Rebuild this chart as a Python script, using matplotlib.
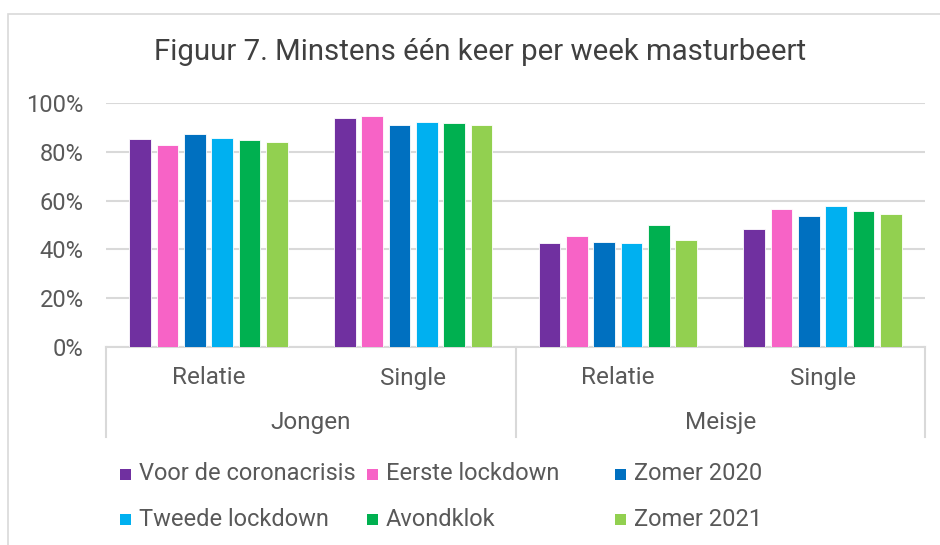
import matplotlib
matplotlib.use("Agg")
import matplotlib.pyplot as plt
from matplotlib.patches import Rectangle
import numpy as np

plt.rcParams['font.family'] = ['Roboto', 'DejaVu Sans']

title = "Figuur 7. Minstens één keer per week masturbeert"
subcats = ["Relatie", "Single", "Relatie", "Single"]
groups = ["Jongen", "Meisje"]
series = ["Voor de coronacrisis", "Eerste lockdown", "Zomer 2020",
          "Tweede lockdown", "Avondklok", "Zomer 2021"]
colors = ["#7030A0", "#F763C6", "#0070C0", "#00B0F0", "#00B050", "#92D050"]

voor = [0.851, 0.937, 0.428, 0.484]
eerste = [0.828, 0.948, 0.455, 0.565]
zomer20 = [0.871, 0.911, 0.431, 0.538]
tweede = [0.858, 0.922, 0.426, 0.578]
avondklok = [0.850, 0.919, 0.498, 0.558]
zomer21 = [0.839, 0.911, 0.437, 0.547]
values = [voor, eerste, zomer20, tweede, avondklok, zomer21]
yticks = [0, 0.2, 0.4, 0.6, 0.8, 1.0]
ytick_labels = ["0%", "20%", "40%", "60%", "80%", "100%"]

W, H = 940, 545
fig = plt.figure(figsize=(W / 100, H / 100), dpi=100)
txt = "#595959"
grid = "#D9D9D9"

# outer chart border (partially visible)
fig.patches.append(Rectangle((8 / W, -0.1), 1.2, (H - 14) / H + 0.1,
                             transform=fig.transFigure, fill=False,
                             edgecolor=grid, linewidth=1.2))

ax = fig.add_axes([106 / W, (H - 347) / H, (925 - 106) / W, (347 - 103) / H])
x = np.arange(len(subcats))
pitch = 0.1335
bw = 0.106
for i, (vals, c) in enumerate(zip(values, colors)):
    ax.bar(x + (i - 2.5) * pitch, vals, width=bw, color=c,
           edgecolor="white", linewidth=0.6, zorder=3)

ax.set_xlim(-0.5, len(subcats) - 0.5)
ax.set_ylim(0, 1.0)
ax.set_yticks(yticks)
ax.set_yticklabels(ytick_labels, fontsize=17, color=txt)
ax.tick_params(axis="y", length=0, pad=16)
ax.set_xticks([])
ax.grid(axis="y", color=grid, linewidth=1.5, zorder=0)
for s in ["left", "right", "top"]:
    ax.spines[s].set_visible(False)
ax.spines["bottom"].set_color(grid)
ax.spines["bottom"].set_linewidth(1.5)

tr = ax.get_xaxis_transform()
ax_h = 347 - 103
low = -(437 - 347) / ax_h
for xb in [-0.5, 1.5, 3.5]:
    ax.plot([xb, xb], [0, low], transform=tr, color=grid, linewidth=1.5,
            clip_on=False)
for xi, lab in zip(x, subcats):
    ax.text(xi, -(378 - 347) / ax_h, lab, transform=tr, ha="center",
            va="center", fontsize=17.5, color=txt)
for gi, g in enumerate(groups):
    ax.text(0.5 + 2 * gi, -(423 - 347) / ax_h, g, transform=tr, ha="center",
            va="center", fontsize=17.5, color=txt)

fig.text(480 / W, 1 - 52 / H, title, ha="center", va="center",
         fontsize=21.2, color="#404040")

# legend
col_x = [120, 367, 615]
row_y = [474, 519]
for i, (name, c) in enumerate(zip(series, colors)):
    cx = col_x[i % 3]
    cy = row_y[i // 3]
    sq = 11
    fig.patches.append(Rectangle((cx / W, (H - cy - sq / 2) / H), sq / W, sq / H,
                                 transform=fig.transFigure, facecolor=c,
                                 edgecolor="none"))
    fig.text((cx + 19) / W, 1 - cy / H, name, ha="left", va="center",
             fontsize=17, color=txt)

fig.savefig("out.png", dpi=100)
